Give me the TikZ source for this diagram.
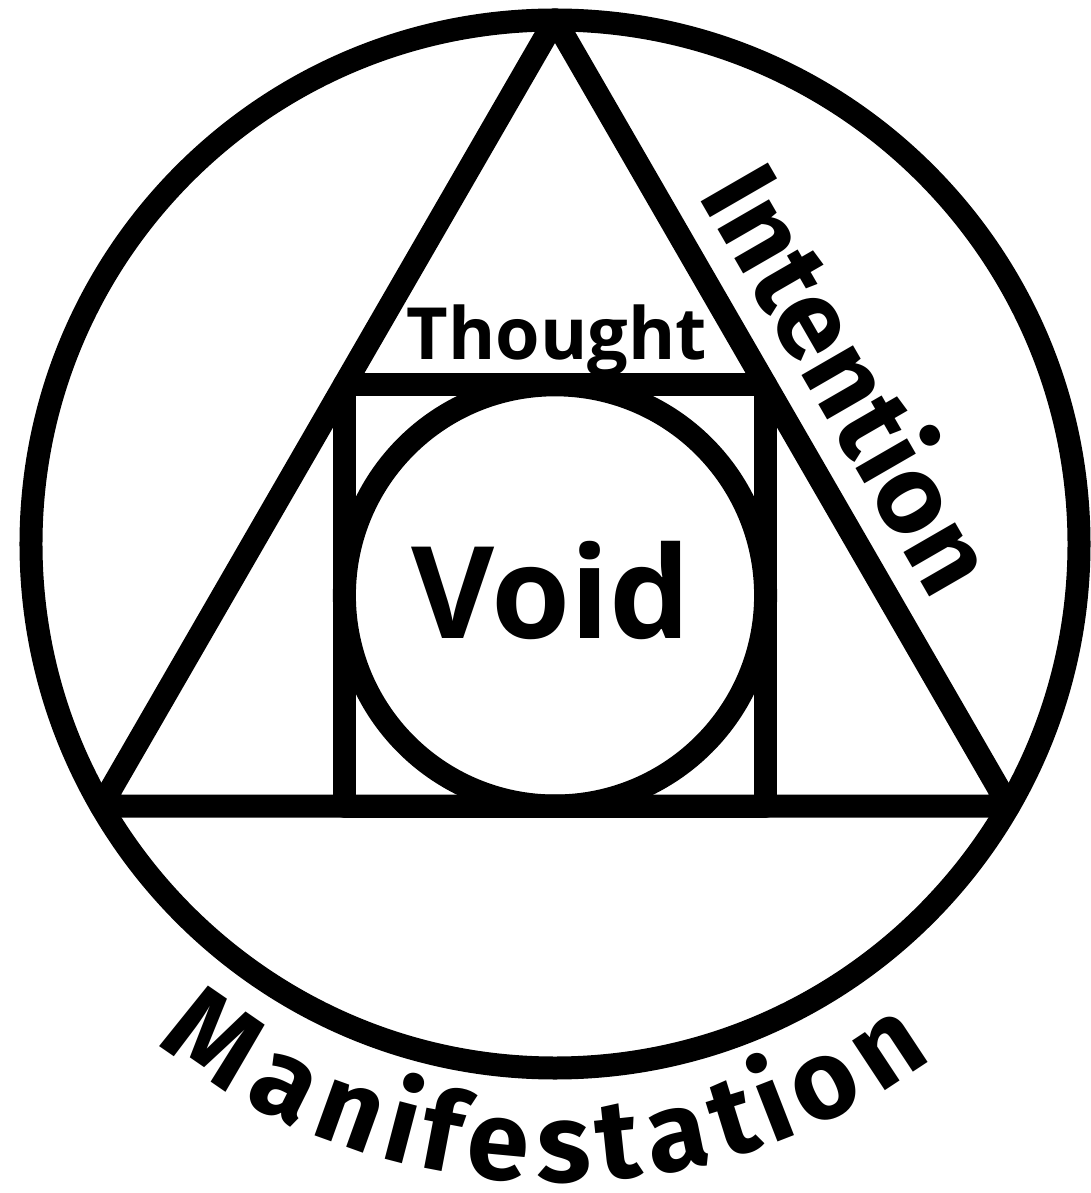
\documentclass[tikz,border=0pt]{standalone}
\usepackage{fontspec}
\setmainfont{Open Sans}
\newfontfamily\sidefont{Fira Sans}
\usetikzlibrary{calc,decorations.text}
\tikzset{ring/.style={draw=black,line width=23pt,line join=round},word/.style={inner sep=0pt,anchor=base}}

\begin{document}
\begin{tikzpicture}[x=1pt,y=1pt]
\useasboundingbox (-555,-649) rectangle (536,544);
\coordinate (o) at (0,0);
\coordinate (apex) at (90:524);
\coordinate (bl) at (210:524);
\coordinate (br) at (330:524);
\draw[ring] (o) circle (524pt);
\draw[ring] (apex) -- (bl) -- (br) -- cycle;
\draw[ring] (-210.6,-262) rectangle (210.6,159.2);
\draw[ring] (0,-51.4) circle (210.6pt);
\node[word,font=\bfseries\fontsize{72}{72}\selectfont] (thought) at (2,184) {Thought};
\node[word,font=\bfseries\fontsize{128}{128}\selectfont] (void) at (-4,-94) {Void};
\node[word,rotate=-60,font=\sidefont\bfseries\fontsize{112}{112}\selectfont] (intention) at ($(apex)!0.505!(br)+(30:36)$) {Intention};
\path[decorate,decoration={text effects along path,text={Manifestation},text effects/.cd,text along path,fit text to path,characters={font=\sidefont\bfseries\fontsize{112}{112}\selectfont}}] (231.5:638) arc[start angle=231.5,end angle=306.3,radius=638pt];
\end{tikzpicture}
\end{document}
